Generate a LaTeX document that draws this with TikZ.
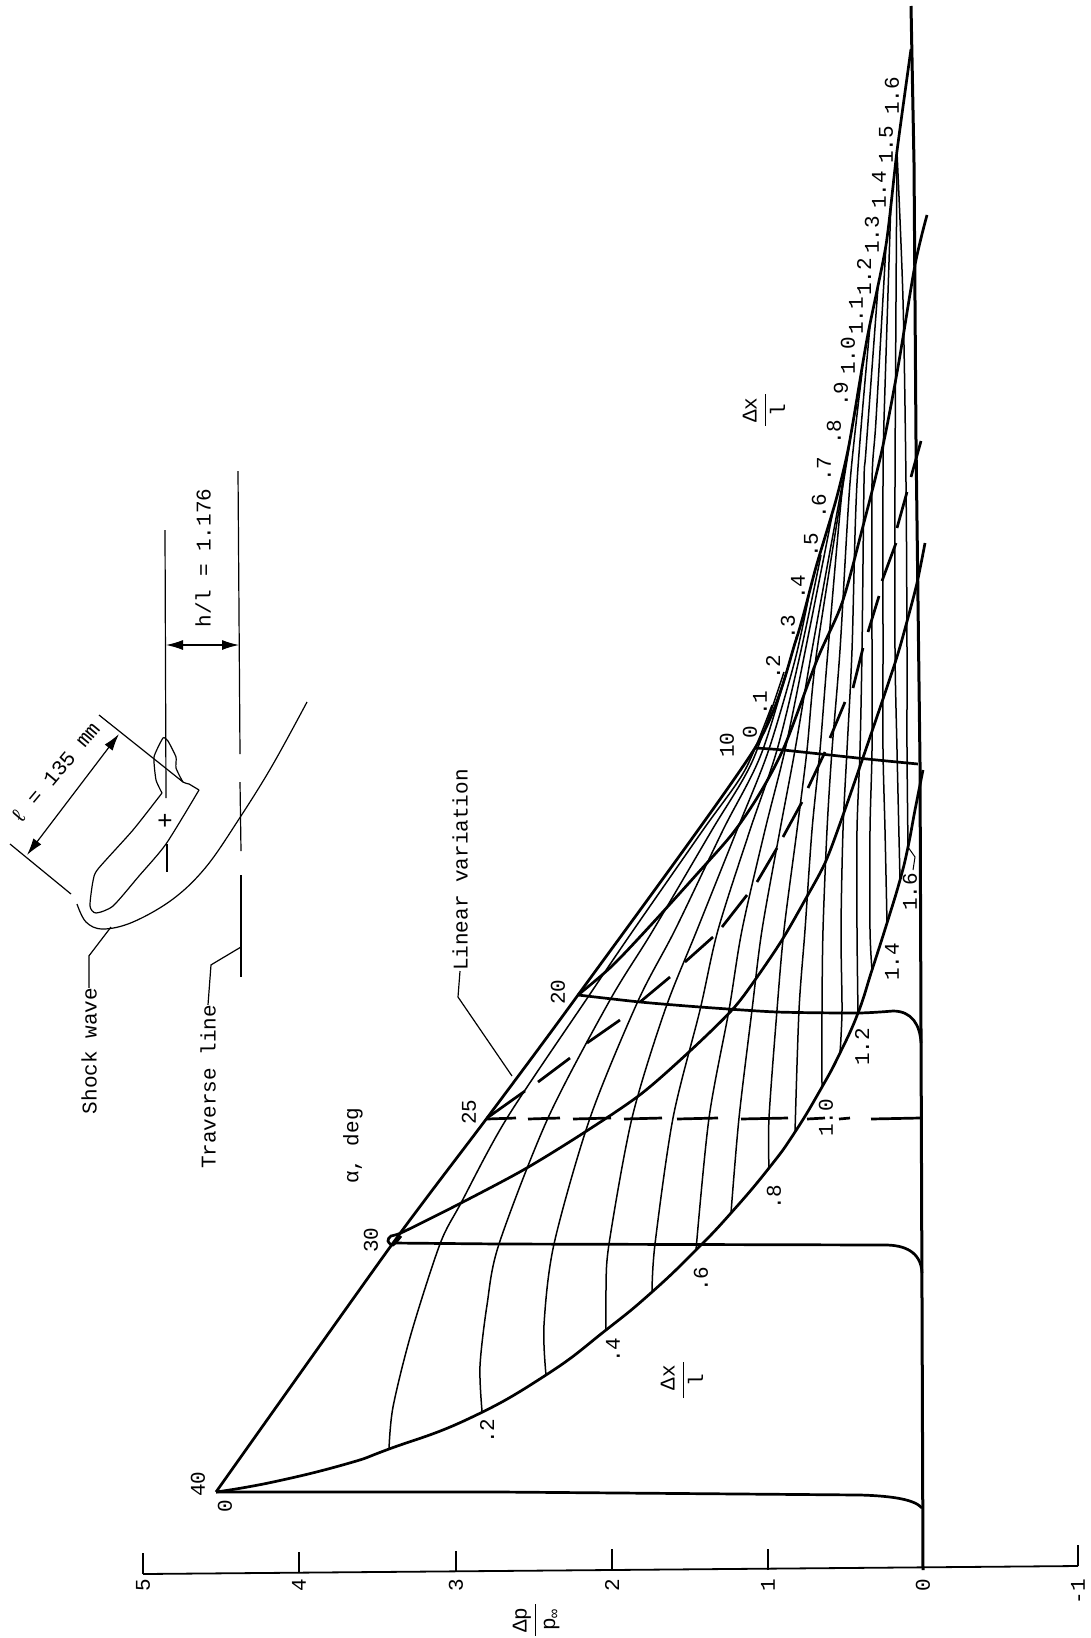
\documentclass[tikz,border=0pt]{standalone}
\usepackage{fontspec}
\setmainfont{Liberation Mono}
\usetikzlibrary{arrows.meta}
\newcommand{\stacked}[2]{\begin{tabular}{@{\hspace{3pt}}c@{\hspace{3pt}}}#1\\[1pt]\hline\noalign{\vskip 3pt}#2\end{tabular}}
\tikzset{
    txtlabel/.style={inner sep=0pt, rotate=90, font=\fontsize{21}{24}\selectfont},
    numlabel/.style={inner sep=0pt, rotate=90, font=\fontsize{21}{24}\selectfont},
    thinline/.style={line width=1.5pt},
    heavyline/.style={line width=2.7pt},
    sketchline/.style={line width=1.2pt},
}
\begin{document}
\begin{tikzpicture}[x=1pt, y=-1pt, >={Latex[length=17pt,width=10pt]}]
    \useasboundingbox (0,0) rectangle (1090,1638);

    % pressure axis
    \draw [line width=1.8pt] (143,1574) -- (1078,1566);
    \foreach \v/\x/\y in {5/143/1574,4/299/1573,3/456/1572,2/612/1570,1/768/1570,0/923/1570,-1/1078/1566}{
        \draw [line width=1.8pt] (\x,\y) -- ++(0,-21);
        \node [numlabel, anchor=east] (tick\x) at (\x,1579) {\v};
    }
    \node [numlabel] (dplabel) at (536,1620) {\stacked{Δp}{p\raisebox{-.35ex}{\fontsize{15}{15}\selectfont ∞}}};

    % zero line
    \draw [line width=3pt] (911,6) -- (914,163) -- (916,441) -- (920,763) -- (923,1570);

    % constant dx/l lines
    \draw [thinline] plot [smooth, tension=.5] coordinates {(389,1449) (393,1407) (411,1334) (440,1244) (461,1203) (507,1118) (588,997) (630,935) (703,830) (745,770) (772,705)};
    \draw [thinline] plot [smooth, tension=.5] coordinates {(482,1411) (480,1366) (487,1305) (499,1244) (548,1118) (610,1000) (652,932) (712,830) (752,762) (784,672)};
    \draw [thinline] plot [smooth, tension=.5] coordinates {(546,1375) (544,1325) (554,1244) (590,1118) (638,1001) (675,930) (723,830) (762,752) (797,635)};
    \draw [thinline] plot [smooth, tension=.5] coordinates {(606,1330) (606,1290) (609,1244) (632,1118) (665,1010) (697,930) (737,830) (768,752) (795,660) (809,595)};
    \draw [thinline] plot [smooth, tension=.5] coordinates {(652,1292) (655,1244) (673,1118) (700,1010) (718,930) (750,830) (777,750) (800,655) (821,555)};
    \draw [thinline] plot [smooth, tension=.5] coordinates {(696,1250) (709,1118) (729,1010) (742,930) (765,830) (785,750) (805,652) (832,516)};
    \draw [thinline] plot [smooth, tension=.5] coordinates {(731,1213) (739,1118) (752,1010) (762,930) (780,830) (795,750) (812,650) (843,480)};
    \draw [thinline] plot [smooth, tension=.5] coordinates {(769,1168) (769,1118) (777,1010) (784,930) (797,830) (807,750) (817,650) (850,442)};
    \draw [thinline] plot [smooth, tension=.5] coordinates {(795,1132) (799,1010) (805,930) (812,830) (820,750) (828,650) (843,483) (857,404)};
    \draw [thinline] plot [smooth, tension=.5] coordinates {(822,1087) (822,1010) (823,930) (827,830) (832,750) (840,650) (850,483) (862,373)};
    \draw [thinline] plot [smooth, tension=.5] coordinates {(840,1053) (842,1010) (841,930) (843,830) (847,750) (852,650) (857,483) (870,326)};
    \draw [thinline] plot [smooth, tension=.5] coordinates {(858,1013) (857,930) (857,830) (860,750) (862,650) (864,483) (866,450) (878,287)};
    \draw [thinline] plot [smooth, tension=.5] coordinates {(872,970) (870,930) (870,830) (872,750) (872,650) (872,483) (876,420) (886,245)};
    \draw [thinline] plot [smooth, tension=.5] coordinates {(887,923) (885,830) (883,750) (883,650) (883,483) (884,420) (891,200)};
    \draw [thinline] plot [smooth, tension=.5] coordinates {(900,880) (897,750) (895,650) (895,483) (896,300) (897,155)};
    \draw [thinline] plot [smooth, tension=.5] coordinates {(908,847) (907,750) (907,650) (906,483) (903,300) (897,152)};

    % upper and lower edge of the field
    \draw [heavyline] plot [smooth, tension=.4] coordinates {(216,1492) (393,1243) (487,1118) (578,995) (755,748) (796,640) (816,567) (836,500) (849,445) (867,339) (886,245) (897,151) (911,49)};
    \draw [heavyline] plot [smooth, tension=.8] coordinates {(216,1492) (273,1482) (346,1464) (389,1449) (468,1419) (546,1375) (606,1330) (652,1292) (696,1250) (731,1213) (769,1168) (795,1132) (822,1087) (840,1053) (858,1013) (872,970) (887,923) (900,880) (908,847) (915,810) (923,770)};

    % angle lines
    \draw [heavyline] (216,1492) -- (500,1492) -- (860,1495) .. controls (895,1496) and (915,1500) .. (922,1508);
    \draw [heavyline] (393,1243) -- (500,1244) -- (885,1245) .. controls (905,1245) and (921,1252) .. (922,1273);
    \draw [heavyline] plot [smooth, tension=.4] coordinates {(578,995) (640,1002) (700,1007) (777,1012) (858,1013) (893,1011)} .. controls (912,1011) and (920,1025) .. (921,1043);
    \draw [heavyline] plot [smooth, tension=.4] coordinates {(755,748) (783,750) (867,759) (918,764)};
    \draw [heavyline] plot [smooth, tension=.5] coordinates {(401,1236) (393,1245) (388,1241) (391,1236) (403,1232) (461,1203) (525,1169) (585,1132) (641,1094) (690,1051) (732,1010) (755,980) (782,940) (805,900) (825,863) (842,818) (868,743) (895,663) (906,625) (917,583) (925,543)};
    \draw [heavyline] plot [smooth, tension=.5] coordinates {(578,995) (612,966) (650,926) (697,874) (733,833) (760,793) (785,745) (817,660) (842,603) (862,530) (882,450) (898,367) (915,265) (927,215)};

    % dashed pieces
    \foreach \a/\b in {487/516,528/560,573/611,624/662,677/718,741/788,807/825,839/850,871/920}{
        \draw [heavyline] (\a,1119) -- (\b,1118);
    }
    \draw [heavyline] (487,1118) -- (525,1091);
    \draw [heavyline] (538,1082) -- (570,1058);
    \draw [heavyline] (587,1043) -- (620,1020);
    \draw [heavyline] (640,1002) -- (670,977);
    \draw [heavyline] (685,962) -- (713,937);
    \draw [heavyline] (722,927) -- (747,895);
    \draw [heavyline] (757,882) -- (777,848);
    \draw [heavyline] (783,837) -- (802,802);
    \draw [heavyline] (808,788) -- (825,752);
    \draw [heavyline] (830,738) -- (845,702);
    \draw [heavyline] (853,688) -- (863,648);
    \draw [heavyline] (868,632) -- (879,596);
    \draw [heavyline] (882,581) -- (896,543);
    \draw [heavyline] (897,528) -- (907,492);
    \draw [heavyline] (911,477) -- (921,441);

    % numbers on the upper edge
    \foreach \t/\x/\y in {0/750/732,.1/760/703,.2/773/667,.3/788/627,.4/798/587,.5/811/545,.6/819/506,.7/824/469,.8/834/432,.9/841/394,1.0/848/356,1.1/856/316,1.2/864/277,1.3/872/235,1.4/879/190,1.5/886/145,1.6/892/96}{
        \node [numlabel] at (\x,\y) {\t};
    }
    % numbers on the lower edge
    \foreach \t/\x/\y in {.2/487/1431,.4/613/1350,.6/701/1279,.8/774/1197,1.0/826/1118,1.2/862/1047,1.4/892/962,1.6/910/892}{
        \node [numlabel] at (\x,\y) {\t};
    }
    \draw [line width=1pt] (908,847) -- (915,857) -- (913,870);
    % angles
    \foreach \t/\x/\y in {40/198/1484,30/371/1240,25/469/1112,20/558/992,10/727/745}{
        \node [numlabel] at (\x,\y) {\t};
    }
    \node [numlabel] (apexzero) at (225,1506) {0};

    \node [txtlabel] (alphadeg) at (353,1146) {α, deg};
    \node [numlabel] (dxlow) at (684,1380) {\stacked{\hspace{5pt}Δx\hspace{5pt}}{l}};
    \node [numlabel] (dxhigh) at (766,410) {\stacked{Δx}{l}};

    \node [txtlabel] (linear) at (460,870) {Linear variation};
    \coordinate (linearfoot) at (512,1076);
    \draw [sketchline] (linear.west) -- ++(-2,26) -- (linearfoot);

    % sketch of the vehicle
    \draw [sketchline] (165,530) -- (166,798);
    \draw [sketchline] (167,844) -- (167,872);
    \node [numlabel, font=\fontsize{26}{26}\selectfont] (centre) at (166,821) {+};
    \draw [sketchline] (238,471) -- (240,754);
    \draw [sketchline] (240,782) -- (241,851);
    \draw [sketchline] (241,875) -- (241,977);
    \draw [sketchline, <->] (166,645) -- (239,645);
    \node [txtlabel] (hratio) at (203,558) {h/l = 1.176};

    \draw [sketchline] plot [smooth, tension=.4] coordinates {(199,790) (166,844) (139,876) (113,906) (96,913) (90,906) (93,881) (98,869) (133,830) (162,793)};
    \draw [sketchline] plot [smooth, tension=.3] coordinates {(162,793) (156,780) (154,757) (163,738) (168,741) (176,757) (176,768) (183,782) (189,784) (199,790)};

    \draw [sketchline] (99,715) -- (183,782);
    \draw [sketchline] (10,844) -- (71,894);
    \draw [sketchline, <->] (119,734) -- (27,855);
    \node [txtlabel, rotate=-40] (lengthlabel) at (55,773) {ℓ = 135 mm};

    % shock wave
    \draw [sketchline] plot [smooth, tension=.6] coordinates {(77,904) (86,922) (103,929) (133,922) (173,899) (206,867) (239,819) (272,766) (307,702)};
    \node [txtlabel] (shock) at (89,1051) {Shock wave};
    \coordinate (shockfoot) at (111,927);
    \draw [sketchline] (shock.east) -- ++(0,-32) -- (shockfoot);

    \node [txtlabel] (traverse) at (208,1087) {Traverse line};
    \coordinate (traversefoot) at (241,947);
    \draw [sketchline] (traverse.east) -- ++(3,-40) -- (traversefoot);
\end{tikzpicture}
\end{document}
